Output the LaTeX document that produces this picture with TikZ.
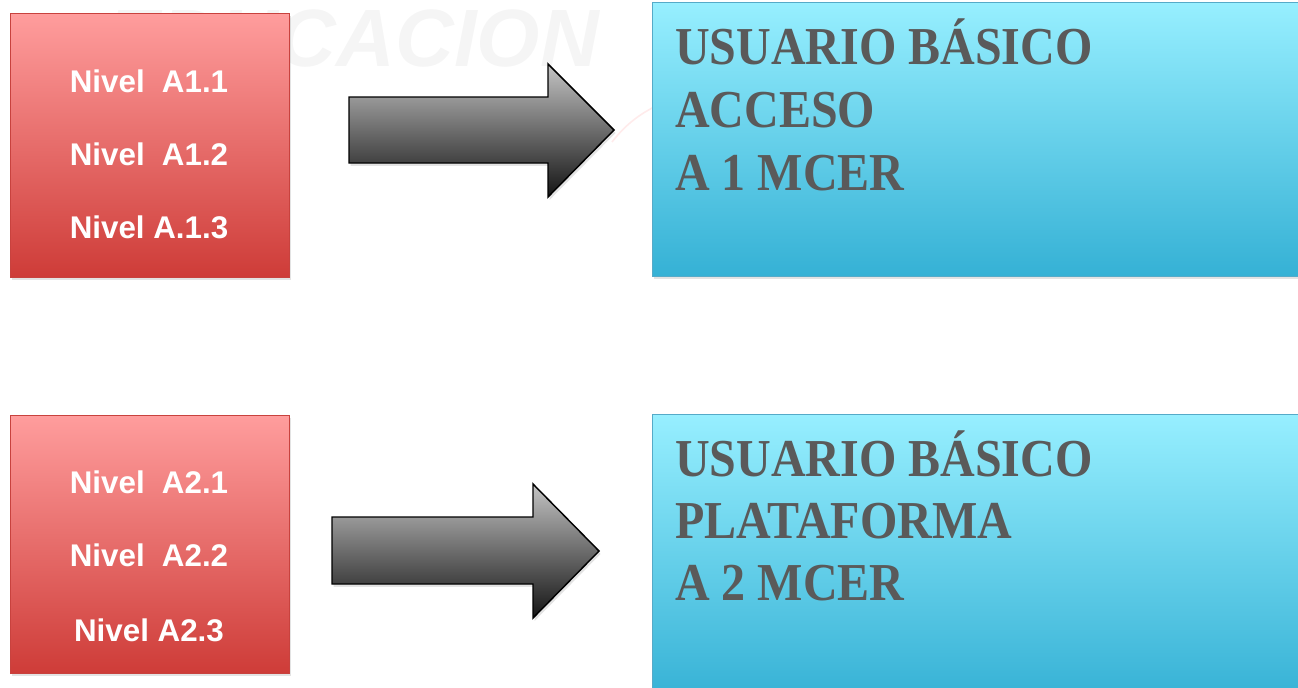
\documentclass[tikz,border=0pt]{standalone}
\usepackage{fontspec}
\setmainfont{Liberation Sans}
\newfontfamily\headfont[FakeStretch=0.9]{Liberation Serif}
\usetikzlibrary{shadows}

\definecolor{levelTop}{HTML}{FF9D9D}
\definecolor{levelBot}{HTML}{CE3C38}
\definecolor{levelEdge}{HTML}{C8423E}
\definecolor{tierTop}{HTML}{97EFFF}
\definecolor{tierBot}{HTML}{35B1D5}
\definecolor{tierEdge}{HTML}{55AAC8}
\definecolor{tierText}{HTML}{5A5A5A}
\definecolor{arrowTop}{HTML}{C4C4C4}
\definecolor{arrowMid}{HTML}{7E7E7E}
\definecolor{arrowBot}{HTML}{141414}

\begin{document}
\begin{tikzpicture}[x=0.75pt,y=-0.75pt,
  softshadow/.style={drop shadow={opacity=0.22,shadow xshift=1.2pt,shadow yshift=-2.2pt}},
  levelbox/.style={draw=levelEdge,line width=0.7pt,top color=levelTop,bottom color=levelBot,
    softshadow,anchor=north west,minimum width=209.25pt,inner sep=0pt,outer sep=0pt},
  tierbox/.style={draw=tierEdge,line width=0.7pt,top color=tierTop,bottom color=tierBot,
    softshadow,anchor=north west,minimum width=493.5pt,inner sep=0pt,outer sep=0pt},
  leveltext/.style={text=white,font=\bfseries\fontsize{23.5}{28}\selectfont,anchor=base,inner sep=0pt},
  tiertext/.style={text=tierText,font=\headfont\bfseries\fontsize{40}{46.5}\selectfont,anchor=base west,inner sep=0pt},
  blockarrow/.style={draw=black,line width=1.1pt,line join=miter,top color=arrowTop,middle color=arrowMid,bottom color=arrowBot,softshadow},
  watermark/.style={text=black!4,font=\bfseries\itshape\fontsize{61}{61}\selectfont,anchor=base west,inner sep=0pt}
]
\useasboundingbox (0,0) rectangle (1298,687);

% faint background lettering
\node[watermark] (mark) at (106,66) {EDUCACION};
\draw[red!8,line width=1.2pt] (612,142) .. controls (626,124) and (640,114) .. (656,106);

% level boxes
\node[levelbox,minimum height=198pt] (boxA1) at (10,13) {};
\node[levelbox,minimum height=193.5pt] (boxA2) at (10,415) {};

\node[leveltext] (a11) at (149,92) {Nivel\hspace{0.55em}A1.1};
\node[leveltext] (a12) at (149,165) {Nivel\hspace{0.55em}A1.2};
\node[leveltext] (a13) at (149,238) {Nivel A.1.3};

\node[leveltext] (a21) at (149,493) {Nivel\hspace{0.55em}A2.1};
\node[leveltext] (a22) at (149,566) {Nivel\hspace{0.55em}A2.2};
\node[leveltext] (a23) at (149,641) {Nivel A2.3};

% block arrows
\path[blockarrow] (349,97) -- (548,97) -- (548,64) -- (614,130) -- (548,197) -- (548,163) -- (349,163) -- cycle;
\path[blockarrow] (332,517) -- (533,517) -- (533,484) -- (599,551) -- (533,618) -- (533,584) -- (332,584) -- cycle;

% user tier boxes
\node[tierbox,minimum height=205.5pt] (tier1) at (652,2) {};
\node[tierbox,minimum height=215pt] (tier2) at (652,414) {};

\node[tiertext] (t1a) at (675,64) {USUARIO BÁSICO};
\node[tiertext] (t1b) at (675,127) {ACCESO};
\node[tiertext] (t1c) at (675,190) {A 1 MCER};

\node[tiertext] (t2a) at (675,476) {USUARIO BÁSICO};
\node[tiertext] (t2b) at (675,538) {PLATAFORMA};
\node[tiertext] (t2c) at (675,600) {A 2 MCER};
\end{tikzpicture}
\end{document}
